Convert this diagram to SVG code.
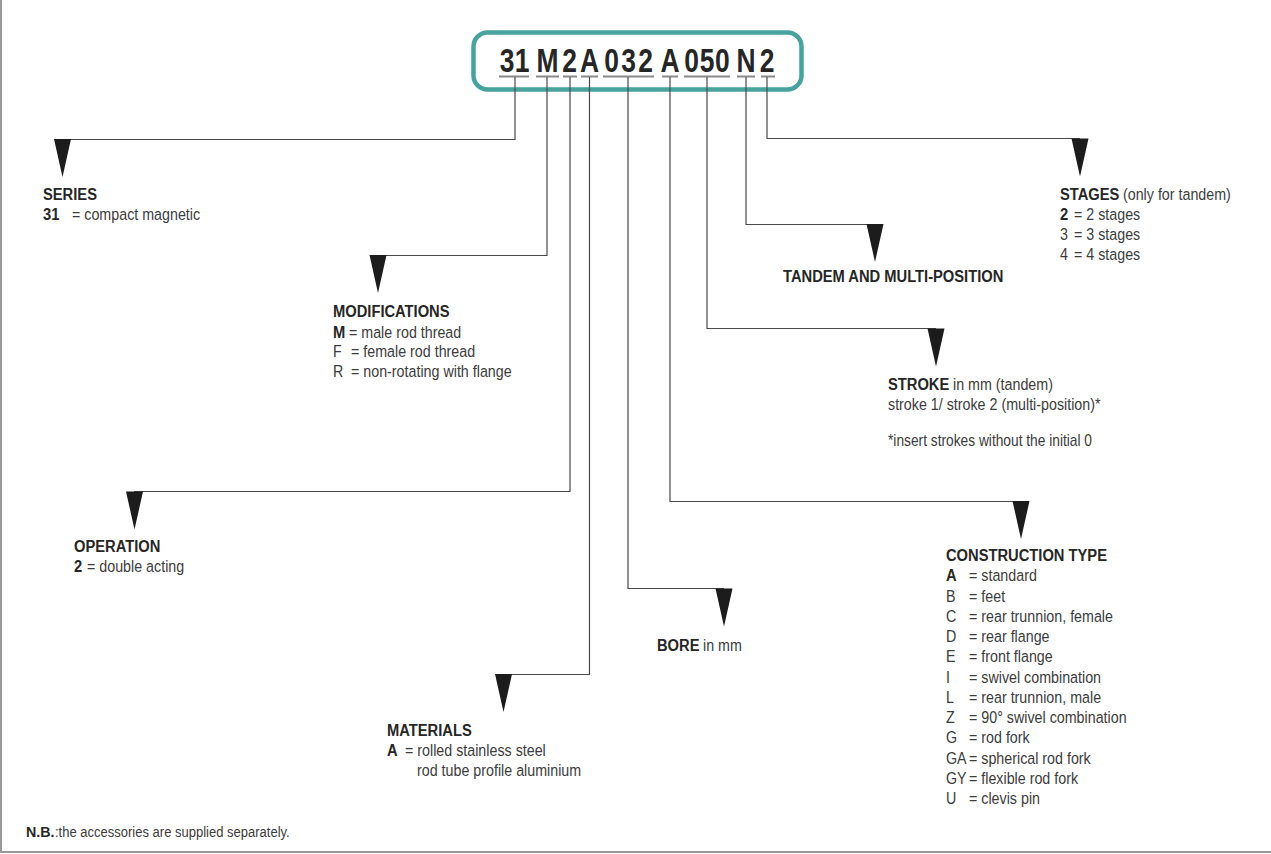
<svg xmlns="http://www.w3.org/2000/svg" xmlns:xlink="http://www.w3.org/1999/xlink" width="1271" height="854" viewBox="0 0 1271 854">
<style>
  text { font-family: "Liberation Sans", Arial, sans-serif; font-size: 16px; }
  .r { fill: #3c3c3c; font-size: 17px; }
  .b { fill: #262626; font-weight: bold; }
  .conn { fill: none; stroke: #4a4a4a; stroke-width: 1.2; }
  .ul { stroke: #8a8a8a; stroke-width: 2; }
  .arr { fill: #1c1c1c; }
</style>
<defs>
  <path id="arr" class="arr" d="M-8.5,0 L8.5,0 L0,38 Z"/>
</defs>
<rect x="0" y="0" width="1271" height="854" fill="#ffffff"/>
<line x1="1" y1="0" x2="1" y2="852" stroke="#999" stroke-width="2"/>
<line x1="0" y1="852" x2="1271" y2="852" stroke="#999" stroke-width="2"/>

<g id="code">
  <rect x="473.5" y="32.5" width="328" height="57" rx="14" fill="#fff" stroke="#48a39f" stroke-width="4.5"/>
  <text class="b" style="font-size:33px" text-anchor="middle" transform="scale(0.8 1)" y="72" x="633.75 652.5 684.4 711.9 736.9 764.4 785.6 806.9 837.5 864.6 883.75 902.9 932.5 958.75">31M2A032A050N2</text>
  <line class="ul" x1="499" y1="76.5" x2="529" y2="76.5"/>
  <line class="ul" x1="536" y1="76.5" x2="559" y2="76.5"/>
  <line class="ul" x1="563" y1="76.5" x2="577" y2="76.5"/>
  <line class="ul" x1="581" y1="76.5" x2="598" y2="76.5"/>
  <line class="ul" x1="603" y1="76.5" x2="654" y2="76.5"/>
  <line class="ul" x1="662" y1="76.5" x2="678" y2="76.5"/>
  <line class="ul" x1="684" y1="76.5" x2="730" y2="76.5"/>
  <line class="ul" x1="737" y1="76.5" x2="755" y2="76.5"/>
  <line class="ul" x1="761" y1="76.5" x2="775" y2="76.5"/>
</g>

<g id="connectors">
  <path class="conn" d="M515,77 V139.5 H62"/>
  <path class="conn" d="M547,77 V255.5 H378"/>
  <path class="conn" d="M570,77 V491.5 H134"/>
  <path class="conn" d="M589.5,77 V674.5 H503"/>
  <path class="conn" d="M628,77 V588.5 H724"/>
  <path class="conn" d="M670,77 V501.5 H1021"/>
  <path class="conn" d="M707,77 V328.5 H936"/>
  <path class="conn" d="M746,77 V224.5 H875"/>
  <path class="conn" d="M767,77 V138.5 H1080"/>
  <use xlink:href="#arr" x="62.5" y="139"/>
  <use xlink:href="#arr" x="378" y="255"/>
  <use xlink:href="#arr" x="134.5" y="491.5"/>
  <use xlink:href="#arr" x="503.5" y="674"/>
  <use xlink:href="#arr" x="724" y="588.5"/>
  <use xlink:href="#arr" x="1021" y="501"/>
  <use xlink:href="#arr" x="936" y="328.5"/>
  <use xlink:href="#arr" x="875" y="224"/>
  <use xlink:href="#arr" x="1080" y="138.5"/>
</g>

<g id="series">
  <text class="b" transform="translate(43 200) scale(0.92 1)">SERIES</text>
  <text class="b" transform="translate(43 220) scale(0.92 1)">31</text>
  <text class="r" transform="translate(72 220) scale(0.84 1)">= compact magnetic</text>
</g>

<g id="modifications">
  <text class="b" transform="translate(333 317) scale(0.92 1)">MODIFICATIONS</text>
  <text class="b" transform="translate(333 338) scale(0.92 1)">M</text>
  <text class="r" transform="translate(349 338) scale(0.84 1)">= male rod thread</text>
  <text class="r" transform="translate(333 357) scale(0.84 1)">F</text>
  <text class="r" transform="translate(351 357) scale(0.84 1)">= female rod thread</text>
  <text class="r" transform="translate(333 377) scale(0.84 1)">R</text>
  <text class="r" transform="translate(351 377) scale(0.84 1)">= non-rotating with flange</text>
</g>

<g id="operation">
  <text class="b" transform="translate(74 552) scale(0.92 1)">OPERATION</text>
  <text class="b" transform="translate(74 572) scale(0.92 1)">2</text>
  <text class="r" transform="translate(87 572) scale(0.84 1)">= double acting</text>
</g>

<g id="materials">
  <text class="b" transform="translate(387 736) scale(0.92 1)">MATERIALS</text>
  <text class="b" transform="translate(387 756) scale(0.92 1)">A</text>
  <text class="r" transform="translate(405 756) scale(0.84 1)">= rolled stainless steel</text>
  <text class="r" transform="translate(417 776) scale(0.84 1)">rod tube profile aluminium</text>
</g>

<g id="bore">
  <text class="b" transform="translate(657 651) scale(0.92 1)">BORE</text>
  <text class="r" transform="translate(703 651) scale(0.84 1)">in mm</text>
</g>

<g id="tandem">
  <text class="b" transform="translate(783 282) scale(0.92 1)">TANDEM AND MULTI-POSITION</text>
</g>

<g id="stages">
  <text class="b" transform="translate(1060 200) scale(0.92 1)">STAGES</text>
  <text class="r" transform="translate(1123 200) scale(0.84 1)">(only for tandem)</text>
  <text class="b" transform="translate(1060 220) scale(0.92 1)">2</text>
  <text class="r" transform="translate(1074 220) scale(0.84 1)">= 2 stages</text>
  <text class="r" transform="translate(1060 240) scale(0.84 1)">3</text>
  <text class="r" transform="translate(1074 240) scale(0.84 1)">= 3 stages</text>
  <text class="r" transform="translate(1060 260) scale(0.84 1)">4</text>
  <text class="r" transform="translate(1074 260) scale(0.84 1)">= 4 stages</text>
</g>

<g id="stroke">
  <text class="b" transform="translate(888 390) scale(0.92 1)">STROKE</text>
  <text class="r" transform="translate(953 390) scale(0.84 1)">in mm (tandem)</text>
  <text class="r" transform="translate(888 410) scale(0.84 1)">stroke 1/ stroke 2 (multi-position)*</text>
  <text class="r" style="font-size:16px" transform="translate(888 446) scale(0.86 1)">*insert strokes without the initial 0</text>
</g>

<g id="construction">
  <text class="b" transform="translate(946 561) scale(0.92 1)">CONSTRUCTION TYPE</text>
  <text class="b" transform="translate(946 581) scale(0.92 1)">A</text>
  <text class="r" transform="translate(969 581) scale(0.84 1)">= standard</text>
  <text class="r" transform="translate(946 602) scale(0.84 1)">B</text>
  <text class="r" transform="translate(969 602) scale(0.84 1)">= feet</text>
  <text class="r" transform="translate(946 622) scale(0.84 1)">C</text>
  <text class="r" transform="translate(969 622) scale(0.84 1)">= rear trunnion, female</text>
  <text class="r" transform="translate(946 642) scale(0.84 1)">D</text>
  <text class="r" transform="translate(969 642) scale(0.84 1)">= rear flange</text>
  <text class="r" transform="translate(946 662) scale(0.84 1)">E</text>
  <text class="r" transform="translate(969 662) scale(0.84 1)">= front flange</text>
  <text class="r" transform="translate(946 683) scale(0.84 1)">I</text>
  <text class="r" transform="translate(969 683) scale(0.84 1)">= swivel combination</text>
  <text class="r" transform="translate(946 703) scale(0.84 1)">L</text>
  <text class="r" transform="translate(969 703) scale(0.84 1)">= rear trunnion, male</text>
  <text class="r" transform="translate(946 723) scale(0.84 1)">Z</text>
  <text class="r" transform="translate(969 723) scale(0.84 1)">= 90° swivel combination</text>
  <text class="r" transform="translate(946 743) scale(0.84 1)">G</text>
  <text class="r" transform="translate(969 743) scale(0.84 1)">= rod fork</text>
  <text class="r" transform="translate(946 764) scale(0.84 1)">GA</text>
  <text class="r" transform="translate(969 764) scale(0.84 1)">= spherical rod fork</text>
  <text class="r" transform="translate(946 784) scale(0.84 1)">GY</text>
  <text class="r" transform="translate(969 784) scale(0.84 1)">= flexible rod fork</text>
  <text class="r" transform="translate(946 804) scale(0.84 1)">U</text>
  <text class="r" transform="translate(969 804) scale(0.84 1)">= clevis pin</text>
</g>

<g id="note">
  <text class="b" style="font-size:15.5px" transform="translate(26 837) scale(0.92 1)">N.B.</text>
  <text class="r" style="font-size:15.5px" transform="translate(55 837) scale(0.84 1)">:the accessories are supplied separately.</text>
</g>
</svg>
